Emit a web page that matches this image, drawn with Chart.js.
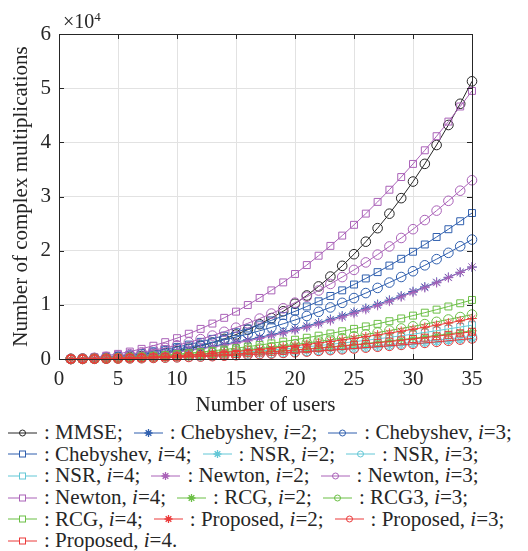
<!DOCTYPE html>
<html>
<head>
<meta charset="utf-8">
<script src="https://cdn.jsdelivr.net/npm/chart.js@4"></script>
<style>
  html, body { margin: 0; padding: 0; background: #fff; }
  body { width: 528px; height: 551px; position: relative; overflow: hidden;
         font-family: "Liberation Serif", "Times New Roman", serif; color: #262626; }
  #wrap { position: absolute; left: 0; top: 0; width: 528px; height: 420px; }
  #expo { position: absolute; left: 63px; top: 11px; font-size: 20px; line-height: 20px; }
  #expo sup { font-size: 13px; position: relative; top: -4px; vertical-align: top; }
  #legend { position: absolute; left: 8px; top: 422px; font-size: 21px; }
  .row { white-space: nowrap; height: 21.6px; display: flex; align-items: center; }
  .item { display: inline-flex; align-items: center; margin-right: 11px; }
  .item svg { margin-right: 7px; }
</style>
</head>
<body>
<div id="wrap"><canvas id="cplx" width="528" height="420"></canvas></div>
<div id="expo">×10<sup>4</sup></div>
<div id="legend"></div>
<script>
/* ── data: complex multiplications vs number of users ── */
const users = [1,2,3,4,5,6,7,8,9,10,11,12,13,14,15,16,17,18,19,20,21,22,23,24,25,26,27,28,29,30,31,32,33,34,35];

const mmse = [5,24,63,129,229,368,555,795,1095,1460,1899,2417,3020,3716,4512,5412,6424,7556,8812,10200,
  11726,13397,15219,17199,19344,21659,24151,26829,29696,32760,36028,39506,43200,47118,51267];

const cheb2 = [14,55,125,222,346,499,679,886,1122,1385,1676,1994,2341,2715,3116,3546,4003,4487,5000,5540,
  6108,6703,7327,7978,8656,9363,10097,10858,11648,12465,13310,14182,15083,16011,16966];
const cheb3 = [18,72,162,288,450,648,882,1152,1458,1800,2178,2592,3042,3528,4050,4608,5202,5832,6498,7200,
  7938,8712,9522,10368,11250,12168,13122,14112,15138,16200,17298,18432,19602,20808,22050];
const cheb4 = [22,88,198,352,550,792,1078,1408,1782,2200,2662,3168,3718,4312,4950,5632,6358,7128,7942,8800,
  9702,10648,11638,12672,13750,14872,16038,17248,18502,19800,21142,22528,23958,25432,26950];

const nsr2 = [3,12,27,48,75,108,147,192,243,300,363,432,507,588,675,768,867,972,1083,1200,
  1323,1452,1587,1728,1875,2028,2187,2352,2523,2700,2883,3072,3267,3468,3675];
const nsr3 = [3,14,31,54,85,122,167,218,275,340,411,490,575,666,765,870,983,1102,1227,1360,
  1499,1646,1799,1958,2125,2298,2479,2666,2859,3060,3267,3482,3703,3930,4165];
const nsr4 = [5,20,46,82,128,184,250,326,413,510,617,734,862,1000,1148,1306,1474,1652,1841,2040,
  2249,2468,2698,2938,3188,3448,3718,3998,4289,4590,4901,5222,5554,5896,6248];

const newton2 = [12,50,113,201,315,455,622,815,1035,1282,1556,1858,2188,2545,2932,3346,3790,4263,4764,5296,
  5857,6449,7071,7723,8406,9120,9867,10644,11452,12294,13167,14074,15013,15985,16991];
const newton3 = [25,100,224,400,627,905,1234,1616,2050,2538,3078,3672,4320,5023,5780,6592,7461,8384,9364,10401,
  11495,12646,13855,15121,16447,17831,19275,20778,22342,23965,25650,27395,29203,31071,33003];
const newton4 = [38,151,341,608,952,1374,1874,2452,3110,3847,4665,5562,6541,7601,8744,9967,11274,12665,14140,15698,
  17341,19069,20882,22782,24769,26842,29003,31252,33589,36014,38530,41135,43829,46615,49493];

const rcg2 = [4,17,38,68,106,153,208,272,344,425,514,612,718,833,956,1088,1228,1377,1534,1700,
  1874,2057,2248,2448,2656,2873,3098,3332,3574,3825,4084,4352,4628,4913,5206];
const rcg3 = [7,27,60,107,168,241,328,429,543,670,811,965,1132,1313,1508,1715,1936,2171,2419,2680,
  2955,3243,3544,3859,4188,4529,4884,5253,5635,6030,6439,6861,7296,7745,8208];
const rcg4 = [9,36,80,142,223,320,436,570,721,890,1077,1282,1504,1744,2003,2278,2572,2884,3213,3560,
  3925,4308,4708,5126,5563,6016,6488,6978,7485,8010,8553,9114,9692,10288,10903];

const prop2 = [6,24,55,98,153,220,299,390,494,610,738,878,1031,1196,1373,1562,1763,1976,2202,2440,
  2690,2952,3227,3514,3813,4124,4447,4782,5130,5490,5862,6246,6643,7052,7473];
const prop3 = [3,12,28,50,78,112,152,198,251,310,375,446,524,608,698,794,896,1004,1119,1240,
  1367,1500,1640,1786,1938,2096,2260,2430,2607,2790,2979,3174,3376,3584,3798];
const prop4 = [4,16,37,66,103,148,201,262,332,410,496,590,693,804,923,1050,1185,1328,1480,1640,
  1808,1984,2169,2362,2563,2772,2989,3214,3448,3690,3940,4198,4465,4740,5023];

const yTicks = [0,1,2,3,4,5,6];   // ×10^4
const xTicks = [0,5,10,15,20,25,30,35];

/* ── styles ── */
const C = {
  black: '#262626', blue: '#2f5fae', cyan: '#63c7d6',
  purple: '#aa62b8', green: '#6bbf45', red: '#eb3a3a'
};

const SERIES = [
  { name: 'MMSE',       iter: null, data: mmse,    color: C.black,  marker: 'circle' },
  { name: 'Chebyshev',  iter: 2,    data: cheb2,   color: C.blue,   marker: 'star' },
  { name: 'Chebyshev',  iter: 3,    data: cheb3,   color: C.blue,   marker: 'circle' },
  { name: 'Chebyshev',  iter: 4,    data: cheb4,   color: C.blue,   marker: 'rect' },
  { name: 'NSR',        iter: 2,    data: nsr2,    color: C.cyan,   marker: 'star' },
  { name: 'NSR',        iter: 3,    data: nsr3,    color: C.cyan,   marker: 'circle' },
  { name: 'NSR',        iter: 4,    data: nsr4,    color: C.cyan,   marker: 'rect' },
  { name: 'Newton',     iter: 2,    data: newton2, color: C.purple, marker: 'star' },
  { name: 'Newton',     iter: 3,    data: newton3, color: C.purple, marker: 'circle' },
  { name: 'Newton',     iter: 4,    data: newton4, color: C.purple, marker: 'rect' },
  { name: 'RCG',        iter: 2,    data: rcg2,    color: C.green,  marker: 'star' },
  { name: 'RCG3',       iter: 3,    data: rcg3,    color: C.green,  marker: 'circle' },
  { name: 'RCG',        iter: 4,    data: rcg4,    color: C.green,  marker: 'rect' },
  { name: 'Proposed',   iter: 2,    data: prop2,   color: C.red,    marker: 'star' },
  { name: 'Proposed',   iter: 3,    data: prop3,   color: C.red,    marker: 'circle' },
  { name: 'Proposed',   iter: 4,    data: prop4,   color: C.red,    marker: 'rect' },
];

const FONT = { family: '"Liberation Serif", "Times New Roman", serif', size: 21 };
const MARK_R = { circle: 4.8, rect: 4.9, star: 4.8 };

/* ── axes box with inward ticks ── */
const boxPlugin = {
  id: 'box',
  afterDraw(chart) {
    const { ctx, chartArea: a, scales: { x, y } } = chart;
    const t = 5;
    ctx.save();
    ctx.strokeStyle = '#262626';
    ctx.lineWidth = 1;
    ctx.beginPath();
    xTicks.forEach(v => {
      const px = Math.round(x.getPixelForValue(v)) + 0.5;
      ctx.moveTo(px, a.bottom); ctx.lineTo(px, a.bottom - t);
      ctx.moveTo(px, a.top);    ctx.lineTo(px, a.top + t);
    });
    yTicks.forEach(v => {
      const py = Math.round(y.getPixelForValue(v * 1e4)) + 0.5;
      ctx.moveTo(a.left, py);  ctx.lineTo(a.left + t, py);
      ctx.moveTo(a.right, py); ctx.lineTo(a.right - t, py);
    });
    ctx.stroke();
    ctx.strokeRect(Math.round(a.left) + 0.5, Math.round(a.top) + 0.5,
                   Math.round(a.right - a.left), Math.round(a.bottom - a.top));
    ctx.restore();
  }
};

/* ── line chart ── */
function initChart() {
  const ctx = document.getElementById('cplx').getContext('2d');
  new Chart(ctx, {
    type: 'line',
    data: {
      datasets: SERIES.map((s, i) => ({
        label: s.name,
        data: s.data.map((v, k) => ({ x: users[k], y: v })),
        borderColor: s.color,
        borderWidth: 1,
        backgroundColor: 'rgba(0,0,0,0)',
        pointStyle: s.marker,
        pointRadius: MARK_R[s.marker],
        pointBorderColor: s.color,
        pointBackgroundColor: 'rgba(0,0,0,0)',
        pointBorderWidth: 1,
        tension: 0,
        clip: 8,
        order: -i,
      })),
    },
    options: {
      responsive: false,
      animation: false,
      events: [],
      layout: { padding: { top: 34, right: 56, left: 0, bottom: 0 } },
      plugins: { legend: { display: false }, tooltip: { enabled: false } },
      scales: {
        x: {
          type: 'linear', min: 0, max: 35,
          afterBuildTicks: s => { s.ticks = xTicks.map(v => ({ value: v })); },
          ticks: { font: FONT, color: '#262626', padding: 8, maxRotation: 0 },
          grid: { color: '#e2e2e2', lineWidth: 1, drawTicks: false },
          border: { display: false },
          title: { display: true, text: 'Number of users', font: FONT, color: '#262626', padding: { top: 0, bottom: 2 } },
          afterFit: s => { s.height = 61; },
        },
        y: {
          min: 0, max: 60000,
          afterBuildTicks: s => { s.ticks = yTicks.map(v => ({ value: v * 1e4 })); },
          ticks: { font: FONT, color: '#262626', padding: 8, callback: v => v / 1e4 },
          grid: { color: '#e2e2e2', lineWidth: 1, drawTicks: false },
          border: { display: false },
          title: { display: true, text: 'Number of complex multiplications', font: FONT, color: '#262626', padding: { top: 9, bottom: 0 } },
          afterFit: s => { s.width = 59; },
        },
      },
    },
    plugins: [boxPlugin],
  });
}

/* ── legend (HTML, so the iteration index can be italic) ── */
function markerSvg(s) {
  const c = s.color;
  let m = '';
  if (s.marker === 'circle') m = `<circle cx="14.5" cy="6" r="3" fill="none" stroke="${c}" stroke-width="1"/>`;
  else if (s.marker === 'rect') m = `<rect x="11.5" y="3" width="6" height="6" fill="#fff" stroke="${c}" stroke-width="1"/>`;
  else {
    const r = 4, d = r * Math.SQRT1_2;
    m = `<path d="M14.5 ${6 - r}V${6 + r}M${14.5 - r} 6H${14.5 + r}M${14.5 - d} ${6 - d}L${14.5 + d} ${6 + d}M${14.5 - d} ${6 + d}L${14.5 + d} ${6 - d}" stroke="${c}" stroke-width="1.3"/>`;
  }
  return `<svg width="29" height="12" viewBox="0 0 29 12"><line x1="0" y1="6" x2="29" y2="6" stroke="${c}" stroke-width="1"/>${m}</svg>`;
}

function renderLegend() {
  const el = document.getElementById('legend');
  const perRow = 3;
  let html = '';
  for (let r = 0; r < SERIES.length; r += perRow) {
    html += '<div class="row">';
    SERIES.slice(r, r + perRow).forEach((s, j) => {
      const last = r + j === SERIES.length - 1;
      const end = last ? '.' : ';';
      const txt = s.iter === null ? `: ${s.name}${end}` : `: ${s.name}, <i>i</i>=${s.iter}${end}`;
      html += `<span class="item">${markerSvg(s)}<span>${txt}</span></span>`;
    });
    html += '</div>';
  }
  el.innerHTML = html;
}

initChart();
renderLegend();
</script>
</body>
</html>
